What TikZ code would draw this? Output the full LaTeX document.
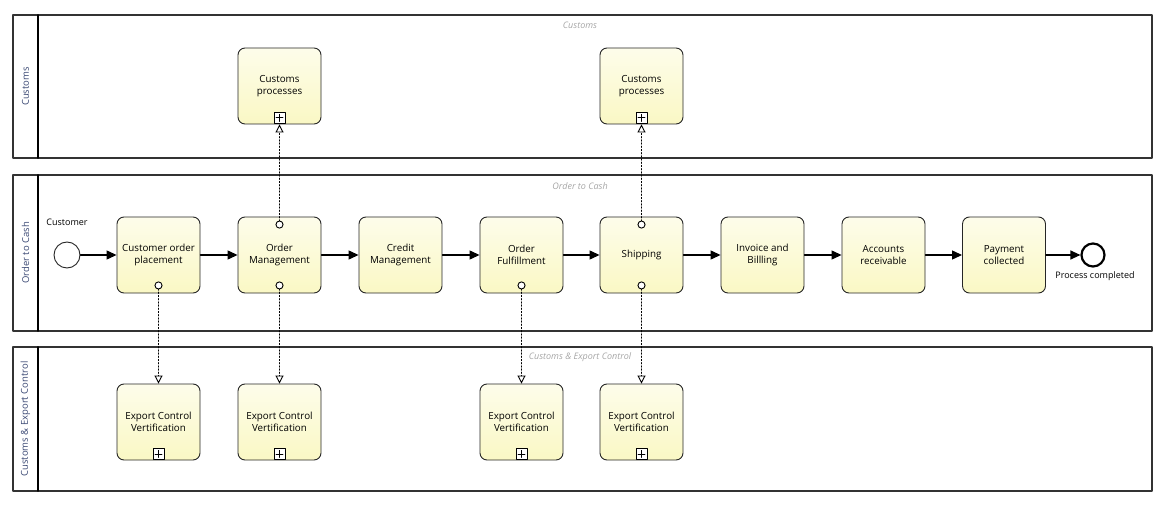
\documentclass[tikz,border=0pt]{standalone}
\usepackage{fontspec}
\setmainfont{Open Sans}
\usetikzlibrary{arrows.meta}
\definecolor{taskfill}{RGB}{250,248,196}
\definecolor{lanetext}{RGB}{58,72,115}
\begin{document}
\begin{tikzpicture}[x=1pt, y=-1pt, font=\fontsize{9.8}{12.5}\selectfont, line join=round, line cap=round,
	task/.style={draw=black!85, line width=0.9pt, rounded corners=7pt, minimum width=83pt, minimum height=76pt,
		align=center, top color=taskfill!35, bottom color=taskfill},
	pool/.style={draw=black!80, line width=1.2pt},
	poolname/.style={rotate=90, text=lanetext, font=\fontsize{9.5}{11}\selectfont},
	pooltitle/.style={text=black!35, font=\fontsize{9}{10}\selectfont\itshape},
	flow/.style={line width=1.2pt, -{Triangle[length=10pt,width=9pt]}},
	assoc/.style={line width=1.1pt, dash pattern=on 1.2pt off 2pt, shorten <=-4pt,
		{Circle[length=8pt,width=8pt,fill=white,line width=0.9pt,sep=-8pt]}-{Triangle[open,length=8pt,width=8pt,line width=0.9pt]}}]
	\useasboundingbox (0,0) rectangle (1165,505);
	% pools
	\draw[pool] (13,15) rectangle (1152,158);
	\draw[line width=1.6pt] (38,15)--(38,158);
	\node[poolname] (pcust) at (25.5,86.5) {Customs};
	\node[pooltitle] (tcust) at (580,25) {Customs};
	\draw[pool] (13,175) rectangle (1152,331);
	\draw[line width=1.6pt] (38,175)--(38,331);
	\node[poolname] (potc) at (25.5,253) {Order to Cash};
	\node[pooltitle] (totc) at (580,186) {Order to Cash};
	\draw[pool] (13,347) rectangle (1152,491);
	\draw[line width=1.6pt] (38,347)--(38,491);
	\node[poolname] (pexp) at (25.5,419) {Customs \& Export Control};
	\node[pooltitle] (texp) at (580,357) {Customs \& Export Control};
	% events
	\node[circle, draw=black!85, line width=0.9pt, minimum size=26pt, inner sep=0pt] (start) at (67,255) {};
	\node[font=\fontsize{9}{11}\selectfont] (custlbl) at (67,222) {Customer};
	\node[circle, draw=black, line width=2.2pt, minimum size=23pt, inner sep=0pt] (end) at (1093,255) {};
	\node[font=\fontsize{9}{11}\selectfont] (endlbl) at (1095,276) {Process completed};
	% tasks
	\node[task] (cop) at (158.5,255) {Customer order\\placement};
	\node[task] (om) at (279.5,255) {Order\\Management};
	\node[task] (cm) at (400.5,255) {Credit\\Management};
	\node[task] (of) at (521.5,255) {Order\\Fulfillment};
	\node[task] (ship) at (641.5,255) {Shipping};
	\node[task] (inv) at (762.5,255) {Invoice and\\Billling};
	\node[task] (ar) at (883.5,255) {Accounts\\receivable};
	\node[task] (pc) at (1004,255) {Payment\\collected};
	\node[task] (cp1) at (279.5,86) {Customs\\processes};
	\node[task] (cp2) at (641.5,86) {Customs\\processes};
	\node[task] (ec1) at (158.5,422) {Export Control\\Vertification};
	\node[task] (ec2) at (279.5,422) {Export Control\\Vertification};
	\node[task] (ec3) at (521.5,422) {Export Control\\Vertification};
	\node[task] (ec4) at (641.5,422) {Export Control\\Vertification};
	% sub-process markers
	\foreach \t in {cp1,cp2,ec1,ec2,ec3,ec4}{
		\draw[line width=0.9pt, fill=white] ([shift={(-5.5,-1)}]\t.south) rectangle ([shift={(5.5,-12)}]\t.south);
		\draw[line width=0.9pt] ([shift={(-3.5,-6.5)}]\t.south)--([shift={(3.5,-6.5)}]\t.south)
			([shift={(0,-3)}]\t.south)--([shift={(0,-10)}]\t.south);
	}
	% sequence flows
	\draw[flow] (start)--(cop);
	\draw[flow] (cop)--(om);
	\draw[flow] (om)--(cm);
	\draw[flow] (cm)--(of);
	\draw[flow] (of)--(ship);
	\draw[flow] (ship)--(inv);
	\draw[flow] (inv)--(ar);
	\draw[flow] (ar)--(pc);
	\draw[flow] (pc)--(end);
	% associations
	\draw[assoc] (om.north)--(cp1.south);
	\draw[assoc] (ship.north)--(cp2.south);
	\draw[assoc] (cop.south)--(ec1.north);
	\draw[assoc] (om.south)--(ec2.north);
	\draw[assoc] (of.south)--(ec3.north);
	\draw[assoc] (ship.south)--(ec4.north);
\end{tikzpicture}
\end{document}
